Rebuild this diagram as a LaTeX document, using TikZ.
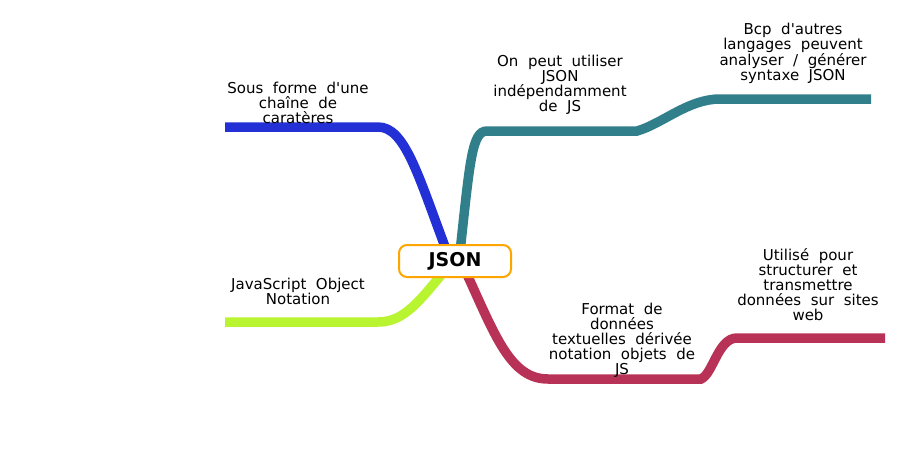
\documentclass[tikz,border=0pt]{standalone}
\usepackage{fontspec}
\setmainfont{DejaVu Sans}[WordSpace=2,Ligatures=TeXOff]
\definecolor{brblue}{RGB}{34,48,214}
\definecolor{brlime}{RGB}{185,244,48}
\definecolor{brteal}{RGB}{49,127,139}
\definecolor{brred}{RGB}{184,50,87}
\definecolor{rootorange}{RGB}{255,165,0}
\begin{document}
\begin{tikzpicture}[x=1pt,y=-1pt,
  branch/.style={line width=9.5pt,line cap=butt},
  lbl/.style={align=center,font=\fontsize{15}{15}\selectfont,inner sep=0pt},
  root/.style={draw=rootorange,line width=2pt,fill=white,rounded corners=8pt,
    minimum width=112pt,minimum height=32pt,inner sep=0pt,
    font=\fontsize{19}{19}\bfseries}]
\useasboundingbox (0,0) rectangle (910,460);

% branch points
\coordinate (sb) at (447,252);
\coordinate (sl) at (447,268);
\coordinate (st) at (460,252);
\coordinate (sr) at (465,270);
\coordinate (blue1) at (378,127);
\coordinate (blue2) at (225,127);
\coordinate (lime1) at (378,322);
\coordinate (lime2) at (225,322);
\coordinate (teal1) at (487,131);
\coordinate (teal2) at (637,131);
\coordinate (teal3) at (720,99);
\coordinate (teal4) at (871,99);
\coordinate (red1) at (548,379);
\coordinate (red2) at (701,379);
\coordinate (red3) at (737,338);
\coordinate (red4) at (885,338);

% branches
\draw[branch,brblue] (sb) .. controls (418,175) and (405,127) .. (blue1) -- (blue2);
\draw[branch,brlime] (sl) .. controls (420,300) and (405,322) .. (lime1) -- (lime2);
\draw[branch,brteal] (st) .. controls (470,160) and (472,131) .. (teal1) -- (teal2)
  .. controls (662,124) and (688,99) .. (teal3) -- (teal4);
\draw[branch,brred] (sr) .. controls (495,335) and (510,379) .. (red1) -- (red2)
  .. controls (713,374) and (718,338) .. (red3) -- (red4);

% central topic
\node[root] (json) at (455,261) {JSON};

% labels
\node[lbl] (lblue) at (298,103) {Sous forme d'une\\chaîne de\\caratères};
\node[lbl] (llime) at (298,291) {JavaScript Object\\Notation};
\node[lbl] (lteal1) at (560,85) {On peut utiliser\\JSON\\indépendamment\\de JS};
\node[lbl] (lteal2) at (793,53) {Bcp d'autres\\langages peuvent\\analyser / générer\\syntaxe JSON};
\node[lbl] (lred1) at (622,340) {Format de\\données\\textuelles dérivée\\notation objets de\\JS};
\node[lbl] (lred2) at (808,285) {Utilisé pour\\structurer et\\transmettre\\données sur sites\\web};
\end{tikzpicture}
\end{document}
